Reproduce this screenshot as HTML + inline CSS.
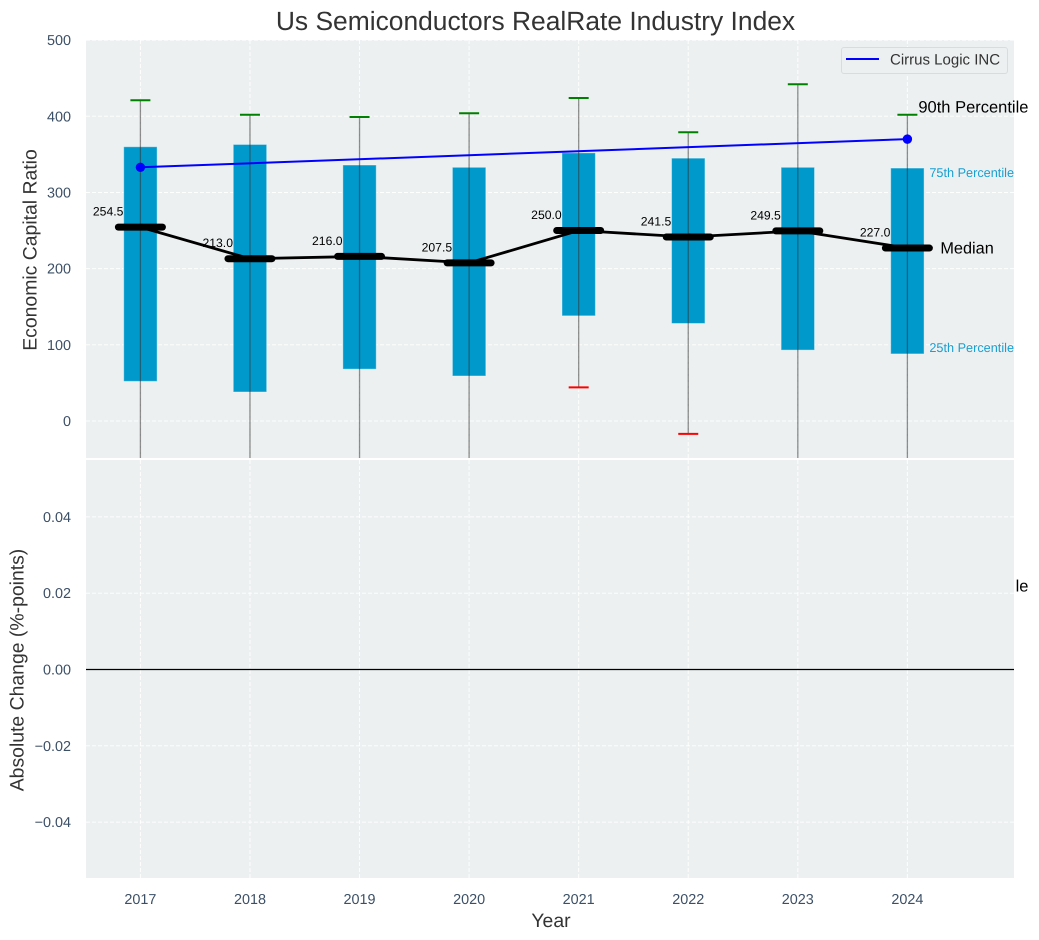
<!DOCTYPE html>
<html>
<head>
<meta charset="utf-8">
<title>Us Semiconductors RealRate Industry Index</title>
<style>
html,body{margin:0;padding:0;background:#fff;}
svg{display:block;font-family:"Liberation Sans",Arial,sans-serif;text-rendering:geometricPrecision;}
</style>
</head>
<body>
<svg id="chart" width="1039" height="940" viewBox="0 0 1039 940" xmlns="http://www.w3.org/2000/svg">
  <defs>
    <clipPath id="top-clip"><rect x="86" y="40" width="928" height="418"/></clipPath>
    <clipPath id="p10-clip"><rect x="1015.6" y="570" width="24" height="30"/></clipPath>
  </defs>
  <text x="535.5" y="30" text-anchor="middle" font-size="26.4" fill="#333333">Us Semiconductors RealRate Industry Index</text>
  <rect x="86" y="40" width="928" height="418" fill="#ecf0f1"/>
  <g id="top-grid"></g>
  <g id="top-marks" clip-path="url(#top-clip)"></g>
  <g id="top-labels"></g>
  <rect x="86" y="460" width="928" height="418" fill="#ecf0f1"/>
  <g id="bottom-grid"></g>
  <g id="tick-labels"></g>
  <text transform="translate(36.5,250) rotate(-90)" text-anchor="middle" font-size="19.4" fill="#333333">Economic Capital Ratio</text>
  <text transform="translate(23.5,670) rotate(-90)" text-anchor="middle" font-size="19.4" fill="#333333">Absolute Change (%-points)</text>
  <text x="551" y="927" text-anchor="middle" font-size="19.4" fill="#333333">Year</text>
  <g>
    <rect x="841.5" y="47.5" width="166" height="26" rx="2.5" fill="#ecf0f1" stroke="#d8dcdf" stroke-width="1"/>
    <line x1="846" y1="59" x2="879" y2="59" stroke="#0000ff" stroke-width="2"/>
    <text x="890" y="64.5" font-size="15" fill="#333333">Cirrus Logic INC</text>
  </g>
</svg>
<script>
var years = [2017, 2018, 2019, 2020, 2021, 2022, 2023, 2024];
var p90 = [421, 402, 399, 404, 424, 379, 442, 402];
var p75 = [360, 363, 336, 333, 352, 345, 333, 332];
var medians = [254.5, 213, 216, 207.5, 250, 241.5, 249.5, 227];
var p25 = [52, 38, 68, 59, 138, 128, 93, 88];
var p10 = [-80, -90, -70, -85, 44, -17, -60, -75];
var company = [333, null, null, null, null, null, null, 370];
var topTicks = [0, 100, 200, 300, 400, 500];
var bottomTicks = [-0.04, -0.02, 0, 0.02, 0.04];

var NS = 'http://www.w3.org/2000/svg';
function xAt(i) { return 140.4 + i * 109.57; }
function yTop(v) { return 40.1 + (500 - v) * 0.7617; }
function yBottom(v) { return 669.5 - v * 3815; }
function mk(tag, attrs, parent) {
  var el = document.createElementNS(NS, tag);
  for (var k in attrs) { el.setAttribute(k, attrs[k]); }
  parent.appendChild(el);
  return el;
}
var topGrid = document.getElementById('top-grid');
var bottomGrid = document.getElementById('bottom-grid');
var marks = document.getElementById('top-marks');
var labels = document.getElementById('top-labels');
var tickLabels = document.getElementById('tick-labels');
var gridStyle = {stroke: '#ffffff', 'stroke-width': 1, 'stroke-dasharray': '4 2', 'stroke-opacity': 0.9};
function gridLine(x1, y1, x2, y2, parent) {
  var a = {x1: x1, y1: y1, x2: x2, y2: y2};
  for (var k in gridStyle) { a[k] = gridStyle[k]; }
  return mk('line', a, parent);
}

topTicks.forEach(function (t) {
  var g = gridLine(86, yTop(t), 1014, yTop(t), topGrid);
  
  
  var lab = mk('text', {x: 71, y: yTop(t) + 5, 'text-anchor': 'end', 'font-size': 14.4, fill: '#3b4f66'}, tickLabels);
  lab.textContent = String(t);
  
  
});

bottomTicks.forEach(function (t) {
  var g = gridLine(86, yBottom(t), 1014, yBottom(t), bottomGrid);
  
  
  var lab = mk('text', {x: 71, y: yBottom(t) + 5, 'text-anchor': 'end', 'font-size': 14.4, fill: '#3b4f66'}, tickLabels);
  lab.textContent = (t < 0 ? '\u2212' : '') + Math.abs(t).toFixed(2);
  
  
});

years.forEach(function (yr, i) {
  var x = xAt(i);
  var g1 = gridLine(x, 40, x, 458, topGrid);
  
  
  var g2 = gridLine(x, 460, x, 878, bottomGrid);
  
  
  var lab = mk('text', {x: x, y: 904, 'text-anchor': 'middle', 'font-size': 14.4, fill: '#3b4f66'}, tickLabels);
  lab.textContent = String(yr);
  
  
});

var zero = mk('line', {x1: 86, y1: yBottom(0), x2: 1014, y2: yBottom(0), stroke: '#000000', 'stroke-width': 1.2}, bottomGrid);



years.forEach(function (yr, i) {
  var x = xAt(i);
  var bar = mk('rect', {x: x - 16.7, y: yTop(p75[i]), width: 33.4, height: yTop(p25[i]) - yTop(p75[i]), fill: '#0099cc', stroke: '#ffffff', 'stroke-opacity': 0.4, 'stroke-width': 1}, marks);
  
  
  var whisker = mk('line', {x1: x, y1: yTop(p90[i]), x2: x, y2: yTop(p10[i]), stroke: '#333333', 'stroke-opacity': 0.55, 'stroke-width': 1.3}, marks);
  
  
  var capHigh = mk('line', {x1: x - 10, y1: yTop(p90[i]), x2: x + 10, y2: yTop(p90[i]), stroke: '#008000', 'stroke-width': 2}, marks);
  
  
  var capLow = mk('line', {x1: x - 10, y1: yTop(p10[i]), x2: x + 10, y2: yTop(p10[i]), stroke: '#ff0000', 'stroke-width': 2}, marks);
  
  
});

var medianPts = medians.map(function (m, i) { return xAt(i) + ',' + yTop(m); }).join(' ');
medians.forEach(function (m, i) {
  var t = mk('text', {x: xAt(i) - 17, y: yTop(m) - 11.5, 'text-anchor': 'end', 'font-size': 12.2, fill: '#000000'}, marks);
  t.textContent = m.toFixed(1);
  
  
});
var medianLine = mk('polyline', {points: medianPts, fill: 'none', stroke: '#000000', 'stroke-width': 2.8}, marks);


medians.forEach(function (m, i) {
  var seg = mk('line', {x1: xAt(i) - 22, y1: yTop(m), x2: xAt(i) + 22, y2: yTop(m), stroke: '#000000', 'stroke-width': 7, 'stroke-linecap': 'round'}, marks);
  
  
});

var companyPts = [];
company.forEach(function (v, i) { if (v !== null) { companyPts.push(xAt(i) + ',' + yTop(v)); } });
var companyLine = mk('polyline', {points: companyPts.join(' '), fill: 'none', stroke: '#0000ff', 'stroke-width': 2}, marks);


company.forEach(function (v, i) {
  if (v === null) { return; }
  var dot = mk('circle', {cx: xAt(i), cy: yTop(v), r: 4.7, fill: '#0000ff'}, marks);
  
  
});

var last = years.length - 1;
var lx = xAt(last);
var l90 = mk('text', {x: lx + 11, y: yTop(p90[last]) - 2, 'font-size': 16.5, fill: '#000000'}, labels);
l90.textContent = '90th Percentile';


var l75 = mk('text', {x: lx + 22, y: yTop(p75[last]) + 9, 'font-size': 12.7, fill: '#1a9fd0'}, labels);
l75.textContent = '75th Percentile';


var lm = mk('text', {x: lx + 33, y: yTop(medians[last]) + 5.5, 'font-size': 16.3, fill: '#000000'}, labels);
lm.textContent = 'Median';


var l25 = mk('text', {x: lx + 22, y: yTop(p25[last]) - 2, 'font-size': 12.7, fill: '#1a9fd0'}, labels);
l25.textContent = '25th Percentile';


var l10 = mk('text', {x: lx + 11, y: 591.5, 'font-size': 16.5, fill: '#000000', 'clip-path': 'url(#p10-clip)'}, labels);
l10.textContent = '10th Percentile';


</script>
</body>
</html>
